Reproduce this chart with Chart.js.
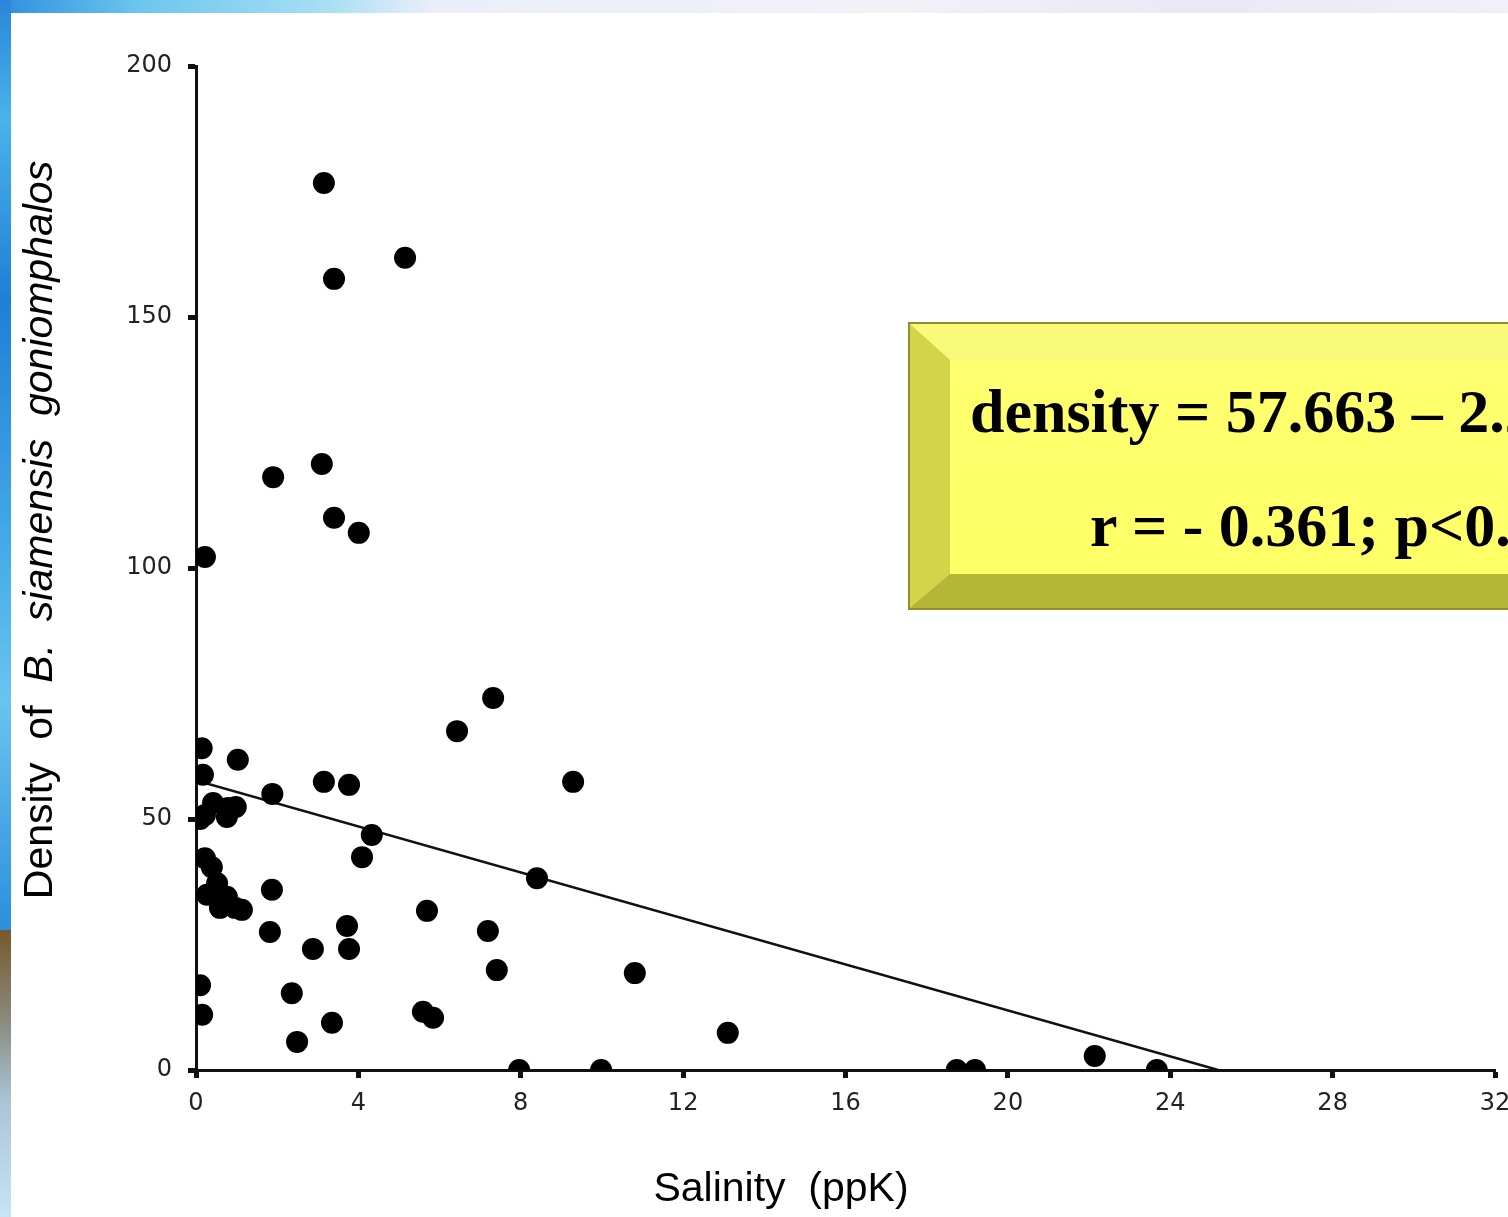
<!DOCTYPE html>
<html>
<head>
<meta charset="utf-8">
<script src="https://cdn.jsdelivr.net/npm/chart.js@4.4.1/dist/chart.umd.min.js"></script>
<style>
  html, body { margin: 0; padding: 0; background: #fff; overflow: hidden; width: 1508px; height: 1217px; }
  #stage { position: relative; width: 1508px; height: 1217px; overflow: hidden; }
  .strip-top { position: absolute; left: 0; top: 0; width: 1508px; height: 13px;
    background: linear-gradient(90deg, #2f8fde 0px, #6cc6ee 140px, #a9dff4 330px, #e9eef8 430px, #f2f1f8 900px, #e8e9f5 1200px, #f1f0f8 1508px); }
  .strip-left { position: absolute; left: 0; top: 0; width: 11px; height: 930px;
    background: linear-gradient(180deg, #2a86d8 0px, #49b3ea 120px, #1f7fd6 300px, #3fa6e6 520px, #69c4ef 700px, #2b8fdc 930px); }
  .strip-left2 { position: absolute; left: 0; top: 930px; width: 11px; height: 287px;
    background: linear-gradient(180deg, #76592c 0px, #8a8a7c 90px, #a9c4d6 170px, #c6e4f6 287px); }
  canvas { position: absolute; left: 0; top: 0; }
  .box { position: absolute; left: 910px; top: 324px; width: 700px; height: 284px; box-sizing: border-box;
    background: linear-gradient(180deg, #ffff70 0%, #ffff66 100%);
    border-style: solid; border-width: 36px 0 34px 40px;
    border-color: #fafa7a transparent #b5b538 #d4d44a;
    box-shadow: 0 0 0 2px #8f8f2e; }
  .eq { position: absolute; font-family: "Liberation Serif", "Times New Roman", serif; font-weight: bold;
    font-size: 62px; line-height: 62px; white-space: nowrap; color: #000; }
</style>
</head>
<body>
<div id="stage">
  <div class="strip-top"></div>
  <div class="strip-left"></div>
  <div class="strip-left2"></div>
  <canvas id="myChart" width="1540" height="1217"></canvas>
  <div class="box"></div>
  <div class="eq" style="left:970px; top:380px;">density = 57.663 – 2.29 salinity</div>
  <div class="eq" style="left:1090px; top:494px;">r = - 0.361; p&lt;0.01</div>
</div>
<script>
// salinity (ppK) and density for each sampling site
const salinity = [
  3.15, 5.15, 3.40, 1.90, 3.10, 3.40, 4.01, 0.22,
  7.32, 6.43, 0.14, 1.03, 0.17, 3.15, 3.77, 9.29, 1.88,
  0.42, 0.79, 0.22, 0.76, 0.98, 0.10,
  4.33, 4.09, 8.40, 0.22, 0.39,
  0.52, 0.27, 0.76, 0.59, 0.96, 1.13,
  1.87, 5.69, 3.72, 7.19, 1.82, 2.88, 3.77,
  7.41, 10.81, 0.10, 2.36, 0.15, 3.35, 5.59, 5.84, 13.1, 2.49, 22.14,
  7.96, 9.98, 18.74, 19.19, 23.67
];
const density = [
  176.7, 161.8, 157.6, 118.1, 120.7, 110.0, 107.0, 102.2,
  74.1, 67.5, 64.1, 61.8, 58.8, 57.4, 56.8, 57.4, 55.0,
  53.2, 52.2, 50.8, 50.4, 52.4, 50.0,
  46.8, 42.4, 38.2, 42.2, 40.4,
  37.2, 34.9, 34.5, 32.3, 32.3, 31.9,
  35.9, 31.7, 28.7, 27.7, 27.5, 24.1, 24.1,
  19.9, 19.3, 16.9, 15.3, 11.0, 9.4, 11.6, 10.4, 7.4, 5.6, 2.8,
  0, 0, 0, 0, 0
];

// fitted line: density = 57.663 - 2.29 * salinity
const intercept = 57.663;
const slope = -2.29;
const xTicks = [0, 4, 8, 12, 16, 20, 24, 28, 32];
const yTicks = [0, 50, 100, 150, 200];

const points = salinity.map((s, i) => ({ x: s, y: density[i] }));
const fitLine = [
  { x: 0, y: intercept },
  { x: -intercept / slope, y: 0 }
];

const axisTitles = {
  id: 'axisTitles',
  afterDraw(chart) {
    const ctx = chart.ctx;
    ctx.save();
    ctx.fillStyle = '#000';
    ctx.textBaseline = 'alphabetic';

    // x title
    ctx.font = '41px "Liberation Sans", Arial, sans-serif';
    ctx.textAlign = 'center';
    ctx.fillText('Salinity  (ppK)', 781, 1201);

    // y title, species name in italics
    const plain = 'Density  of  ';
    const ital = 'B.  siamensis  goniomphalos';
    const fPlain = '41px "Liberation Sans", Arial, sans-serif';
    const fItal = 'italic 41px "Liberation Sans", Arial, sans-serif';
    ctx.font = fPlain;
    const w1 = ctx.measureText(plain).width;
    ctx.font = fItal;
    const w2 = ctx.measureText(ital).width;
    ctx.translate(52, 530);
    ctx.rotate(-Math.PI / 2);
    ctx.textAlign = 'left';
    const start = -(w1 + w2) / 2;
    ctx.font = fPlain;
    ctx.fillText(plain, start, 0);
    ctx.font = fItal;
    ctx.fillText(ital, start + w1, 0);
    ctx.restore();
  }
};

const tickFont = { family: '"DejaVu Sans", Verdana, sans-serif', size: 24 };

new Chart(document.getElementById('myChart'), {
  type: 'scatter',
  data: {
    datasets: [
      {
        data: points,
        backgroundColor: '#000',
        borderColor: '#000',
        pointRadius: 11,
        pointBorderWidth: 0,
        clip: 0
      },
      {
        type: 'line',
        data: fitLine,
        borderColor: '#111',
        borderWidth: 2.5,
        pointRadius: 0,
        fill: false
      }
    ]
  },
  options: {
    responsive: false,
    animation: false,
    devicePixelRatio: 1,
    layout: { padding: { left: 0, top: 66, right: 45, bottom: 87 } },
    plugins: {
      legend: { display: false },
      tooltip: { enabled: false }
    },
    scales: {
      x: {
        type: 'linear',
        min: 0,
        max: 32,
        afterBuildTicks: (s) => { s.ticks = xTicks.map(v => ({ value: v })); },
        afterFit: (s) => { s.height = 60; },
        border: { color: '#111', width: 3 },
        grid: { drawOnChartArea: false, drawTicks: true, tickLength: 8, tickWidth: 5, color: '#111' },
        ticks: { font: tickFont, color: '#222', padding: 11, maxRotation: 0 }
      },
      y: {
        type: 'linear',
        min: 0,
        max: 200,
        afterBuildTicks: (s) => { s.ticks = yTicks.map(v => ({ value: v })); },
        afterFit: (s) => { s.width = 196; },
        border: { color: '#111', width: 3 },
        grid: { drawOnChartArea: false, drawTicks: true, tickLength: 8, tickWidth: 5, color: '#111' },
        ticks: { font: tickFont, color: '#222', padding: 16 }
      }
    }
  },
  plugins: [axisTitles]
});
</script>
</body>
</html>
